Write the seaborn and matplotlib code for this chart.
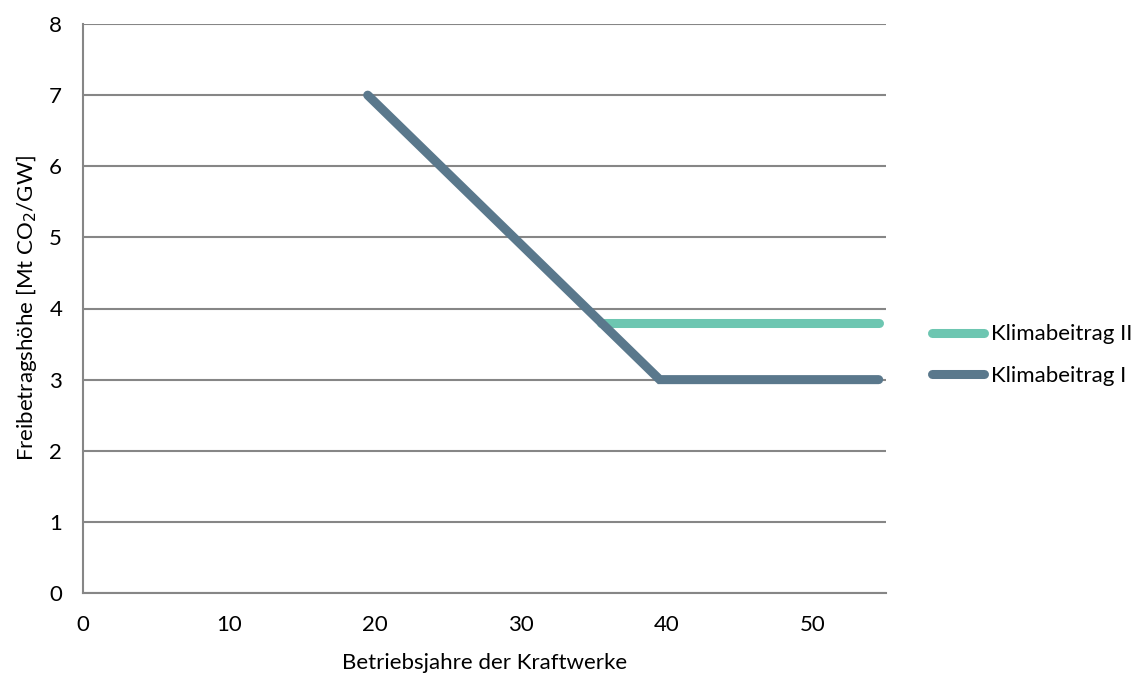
import matplotlib
matplotlib.use("Agg")
import matplotlib.pyplot as plt
import seaborn as sns
import pandas as pd

# Data
years_I = [19.5, 39.5, 54.5]
values_I = [7.0, 3.0, 3.0]
years_II = [35.5, 54.5]
values_II = [3.8, 3.8]
series_names = ["Klimabeitrag II", "Klimabeitrag I"]
x_ticks = [0, 10, 20, 30, 40, 50]
y_ticks = [0, 1, 2, 3, 4, 5, 6, 7, 8]

df = pd.concat([
    pd.DataFrame({"Jahre": years_II, "Wert": values_II, "Serie": series_names[0]}),
    pd.DataFrame({"Jahre": years_I, "Wert": values_I, "Serie": series_names[1]}),
])

sns.set_style("white")
plt.rcParams['font.family'] = ['Lato', 'DejaVu Sans']
plt.rcParams['text.color'] = 'black'
plt.rcParams['axes.labelcolor'] = 'black'

grid_col = "#868686"
palette = {series_names[0]: "#6DC6B1", series_names[1]: "#5A788C"}
fs = 16

fig = plt.figure(figsize=(11.48, 6.8), dpi=100)
ax = fig.add_axes([83/1148, 1-593/680, (886-83)/1148, (593-24)/680])

sns.lineplot(data=df, x="Jahre", y="Wert", hue="Serie", palette=palette,
             linewidth=6.5, ax=ax, sort=False, estimator=None,
             solid_capstyle="round", solid_joinstyle="miter")

ax.set_xlim(0, 55)
ax.set_ylim(0, 8)
ax.set_xticks(x_ticks)
ax.set_yticks(y_ticks)
ax.yaxis.grid(True, color=grid_col, linewidth=1.5)
ax.set_axisbelow(True)
for s in ["top", "right"]:
    ax.spines[s].set_visible(False)
for s in ["left", "bottom"]:
    ax.spines[s].set_color(grid_col)
    ax.spines[s].set_linewidth(1.5)
ax.tick_params(axis="both", which="major", direction="out", length=5, width=1.5,
               color=grid_col, labelsize=fs, labelcolor="black")
ax.tick_params(axis="x", pad=11)
ax.tick_params(axis="y", pad=10)
ax.set_xlabel("Betriebsjahre der Kraftwerke", fontsize=fs, labelpad=13, color="black")
ax.set_ylabel("Freibetragshöhe [Mt CO$_2$/GW]", fontsize=fs, labelpad=7, color="black")

handles, labels = ax.get_legend_handles_labels()
ax.legend_.remove()
for h in handles:
    h.set_solid_capstyle("round")
fig.legend(handles, labels, loc="center left", bbox_to_anchor=(932/1148, 1-355/680),
           frameon=False, fontsize=fs, handlelength=2.35, handletextpad=0.3,
           labelspacing=0.95, borderaxespad=0, borderpad=0)

fig.savefig("out.png", dpi=100)
